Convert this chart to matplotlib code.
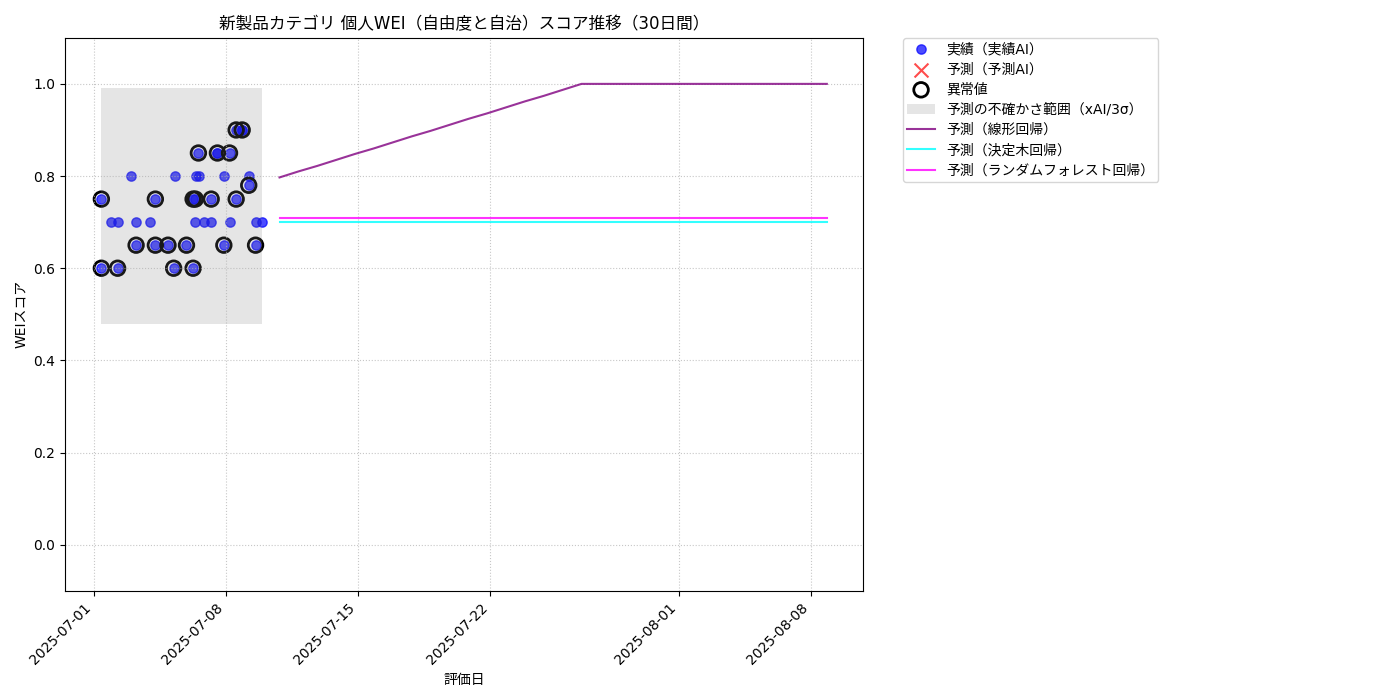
import matplotlib
matplotlib.use("Agg")
import matplotlib.pyplot as plt
import matplotlib.dates as mdates
import pandas as pd

# Latin glyphs from DejaVu, Japanese falls through to Noto CJK
plt.rcParams['font.family'] = ['DejaVu Sans', 'Noto Sans CJK JP']

# actual scores (実績)
actual_dates = [
    "2025-07-01 09:36", "2025-07-01 09:36", "2025-07-01 22:20", "2025-07-02 06:15",
    "2025-07-02 06:15", "2025-07-02 22:50", "2025-07-03 05:45", "2025-07-03 06:00",
    "2025-07-03 23:00", "2025-07-04 06:15", "2025-07-04 06:15", "2025-07-04 22:20",
    "2025-07-05 05:30", "2025-07-05 07:00", "2025-07-05 21:50", "2025-07-06 06:15",
    "2025-07-06 06:15", "2025-07-06 09:05", "2025-07-06 09:05", "2025-07-06 10:05",
    "2025-07-06 13:00", "2025-07-06 13:25", "2025-07-06 19:55", "2025-07-07 05:15",
    "2025-07-07 05:30", "2025-07-07 13:10", "2025-07-07 13:10", "2025-07-07 21:20",
    "2025-07-07 21:20", "2025-07-08 04:35", "2025-07-08 04:35", "2025-07-08 13:00",
    "2025-07-08 13:00", "2025-07-08 20:40", "2025-07-08 20:40", "2025-07-09 05:00",
    "2025-07-09 05:00", "2025-07-09 13:40", "2025-07-09 13:40", "2025-07-09 22:05",
]
actual_scores = [
    0.75, 0.60, 0.70, 0.70,
    0.60, 0.80, 0.65, 0.70,
    0.70, 0.75, 0.65, 0.65,
    0.60, 0.80, 0.65, 0.75,
    0.60, 0.75, 0.70, 0.80,
    0.85, 0.80, 0.70, 0.75,
    0.70, 0.85, 0.85, 0.80,
    0.65, 0.85, 0.70, 0.90,
    0.75, 0.90, 0.90, 0.80,
    0.78, 0.70, 0.65, 0.70,
]

# anomalies (異常値)
anomaly_dates = [
    "2025-07-01 09:36", "2025-07-01 09:36", "2025-07-02 06:15", "2025-07-03 05:45",
    "2025-07-04 06:15", "2025-07-04 06:15", "2025-07-04 22:20", "2025-07-05 05:30",
    "2025-07-05 21:50", "2025-07-06 06:15", "2025-07-06 06:15", "2025-07-06 09:05",
    "2025-07-06 13:00", "2025-07-07 05:15", "2025-07-07 13:10", "2025-07-07 21:20",
    "2025-07-08 04:35", "2025-07-08 13:00", "2025-07-08 13:00", "2025-07-08 20:40",
    "2025-07-09 05:00", "2025-07-09 13:40",
]
anomaly_scores = [
    0.75, 0.60, 0.60, 0.65,
    0.75, 0.65, 0.65, 0.60,
    0.65, 0.75, 0.60, 0.75,
    0.85, 0.75, 0.85, 0.65,
    0.85, 0.90, 0.75, 0.90,
    0.78, 0.65,
]

# uncertainty band (xAI / 3 sigma)
band_low, band_high = 0.48, 0.99

# forecasts, 30 days
forecast_dates = pd.date_range("2025-07-10 20:10", periods=30, freq="D")
linear_pred = [0.797, 0.810, 0.822, 0.835, 0.848, 0.860, 0.873, 0.886, 0.898, 0.911,
               0.924, 0.936, 0.949, 0.962, 0.974, 0.987, 1.0, 1.0, 1.0, 1.0,
               1.0, 1.0, 1.0, 1.0, 1.0, 1.0, 1.0, 1.0, 1.0, 1.0]
tree_pred = [0.70] * 30
forest_pred = [0.71] * 30

actual_dt = pd.to_datetime(actual_dates)
anomaly_dt = pd.to_datetime(anomaly_dates)

fig, ax = plt.subplots(figsize=(14, 7), dpi=100)

ax.scatter(actual_dt, actual_scores, color='blue', alpha=0.7, s=45, label='実績（実績AI）')
ax.scatter([], [], color='red', marker='x', alpha=0.7, s=100, label='予測（予測AI）')
ax.scatter(anomaly_dt, anomaly_scores, facecolors='none', edgecolors='black',
           s=110, linewidths=2, label='異常値')
ax.fill_between([actual_dt.min(), actual_dt.max()], band_low, band_high,
                color='gray', alpha=0.2, linewidth=0, label='予測の不確かさ範囲（xAI/3σ）')
ax.plot(forecast_dates, linear_pred, color='purple', alpha=0.8, linewidth=1.5, label='予測（線形回帰）')
ax.plot(forecast_dates, tree_pred, color='cyan', alpha=0.8, linewidth=1.5, label='予測（決定木回帰）')
ax.plot(forecast_dates, forest_pred, color='magenta', alpha=0.8, linewidth=1.5,
        label='予測（ランダムフォレスト回帰）')

ax.set_ylim(-0.1, 1.1)
ax.set_title('新製品カテゴリ 個人WEI（自由度と自治）スコア推移（30日間）', fontsize=12)
ax.set_xlabel('評価日')
ax.set_ylabel('WEIスコア')
ax.xaxis.set_major_formatter(mdates.DateFormatter('%Y-%m-%d'))
plt.setp(ax.get_xticklabels(), rotation=45, ha='right')
ax.grid(True, linestyle=':', alpha=0.7)
ax.legend(bbox_to_anchor=(1.05, 1), loc='upper left', borderaxespad=0.,
          labelspacing=0.45, borderpad=0.3)

fig.subplots_adjust(left=0.0465, right=0.6165, top=0.946, bottom=0.156)
fig.savefig('out.png')
